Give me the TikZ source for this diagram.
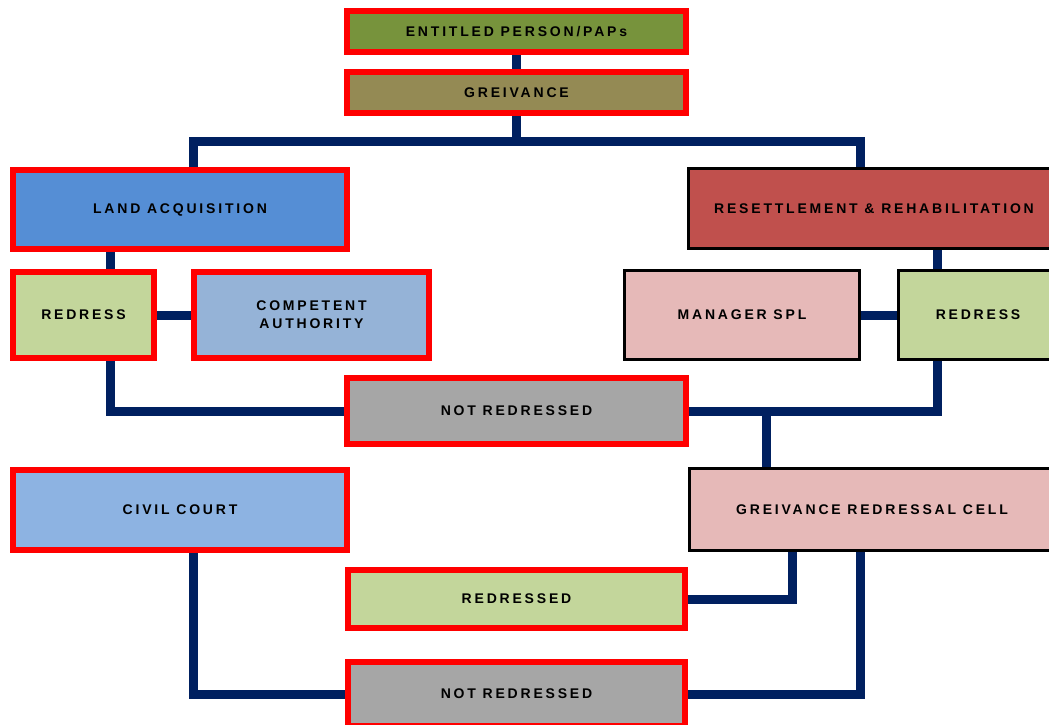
\documentclass[tikz,border=0pt]{standalone}
\usepackage{fontspec}
\newfontfamily\boxfont[LetterSpace=20]{Liberation Sans}
\usetikzlibrary{backgrounds}
\definecolor{linknavy}{HTML}{002060}
\definecolor{boxred}{HTML}{FF0000}
\definecolor{olivefill}{HTML}{77933C}
\definecolor{khakifill}{HTML}{948A54}
\definecolor{landfill}{HTML}{558ED5}
\definecolor{greenfill}{HTML}{C3D69B}
\definecolor{paleblue}{HTML}{95B3D7}
\definecolor{rrfill}{HTML}{C0504D}
\definecolor{pinkfill}{HTML}{E6B9B8}
\definecolor{greyfill}{HTML}{A6A6A6}
\definecolor{courtfill}{HTML}{8DB3E2}
\tikzset{
  box/.style={rectangle, inner sep=2pt, align=center,
    font=\boxfont\bfseries\fontsize{14}{18}\selectfont, text=black},
  redbox/.style={box, draw=boxred, line width=6pt},
  blackbox/.style={box, draw=black, line width=3pt},
  link/.style={draw=linknavy, line width=9pt}
}
\begin{document}
\begin{tikzpicture}[x=1pt,y=-1pt]
\useasboundingbox (0,0) rectangle (1049,724);
\clip (0,0) rectangle (1049,724);

% top chain
\node[redbox, fill=olivefill, minimum width=339pt, minimum height=41pt] (ent) at (516.5,31.5) {ENTITLED PERSON/PAPs};
\node[redbox, fill=khakifill, minimum width=339pt, minimum height=41pt] (grv) at (516.5,92.5) {GREIVANCE};

% land acquisition branch
\node[redbox, fill=landfill, minimum width=334pt, minimum height=79pt] (land) at (180,209.5) {LAND ACQUISITION};
\node[redbox, fill=greenfill, minimum width=141pt, minimum height=86pt] (redL) at (83.5,315) {REDRESS};
\node[redbox, fill=paleblue, minimum width=235pt, minimum height=86pt] (comp) at (311.5,315) {COMPETENT\\AUTHORITY};

% resettlement branch
\node[blackbox, fill=rrfill, minimum width=371pt, minimum height=80pt] (rr) at (874,208.5) {RESETTLEMENT \& REHABILITATION};
\node[blackbox, fill=pinkfill, minimum width=235pt, minimum height=89pt] (mgr) at (742,315) {MANAGER SPL};
\node[blackbox, fill=greenfill, minimum width=159pt, minimum height=89pt] (redR) at (978,315) {REDRESS};

% outcomes
\node[redbox, fill=greyfill, minimum width=339pt, minimum height=66pt] (nr1) at (516.5,411) {NOT REDRESSED};
\node[redbox, fill=courtfill, minimum width=334pt, minimum height=80pt] (civil) at (180,510) {CIVIL COURT};
\node[blackbox, fill=pinkfill, minimum width=365pt, minimum height=82pt] (cell) at (872,509.5) {GREIVANCE REDRESSAL CELL};
\node[redbox, fill=greenfill, minimum width=337pt, minimum height=58pt] (red2) at (516.5,599) {REDRESSED};
\node[redbox, fill=greyfill, minimum width=337pt, minimum height=64pt] (nr2) at (516.5,694) {NOT REDRESSED};

% attachment points of the connectors
\coordinate (j1) at ([yshift=-25pt]grv.south);
\coordinate (landTop) at ([xshift=13]land.north);
\coordinate (rrTop) at ([xshift=-14]rr.north);
\coordinate (redLTop) at ([xshift=26.5]redL.north);
\coordinate (redLBot) at ([xshift=26.5]redL.south);
\coordinate (redRTop) at ([xshift=-41]redR.north);
\coordinate (redRBot) at ([xshift=-41]redR.south);
\coordinate (cellTop) at ([xshift=-106]cell.north);
\coordinate (civilBot) at ([xshift=13]civil.south);
\coordinate (cellBotA) at ([xshift=-80]cell.south);
\coordinate (cellBotB) at ([xshift=-12]cell.south);

\begin{scope}[on background layer]
  \draw[link] (ent.south) -- (grv.north);
  \draw[link] (grv.south) -- (j1);
  \draw[link] (landTop) |- (j1) -| (rrTop);
  \draw[link] (redLTop) -- (redLTop |- land.south);
  \draw[link] (redL.east) -- (comp.west);
  \draw[link] (redLBot) |- (nr1.west);
  \draw[link] (redRTop) -- (redRTop |- rr.south);
  \draw[link] (mgr.east) -- (redR.west);
  \draw[link] (redRBot) |- (nr1.east);
  \draw[link] (cellTop) -- (cellTop |- nr1.east);
  \draw[link] (civilBot) |- (nr2.west);
  \draw[link] (red2.east) -| (cellBotA);
  \draw[link] (nr2.east) -| (cellBotB);
\end{scope}
\end{tikzpicture}
\end{document}
